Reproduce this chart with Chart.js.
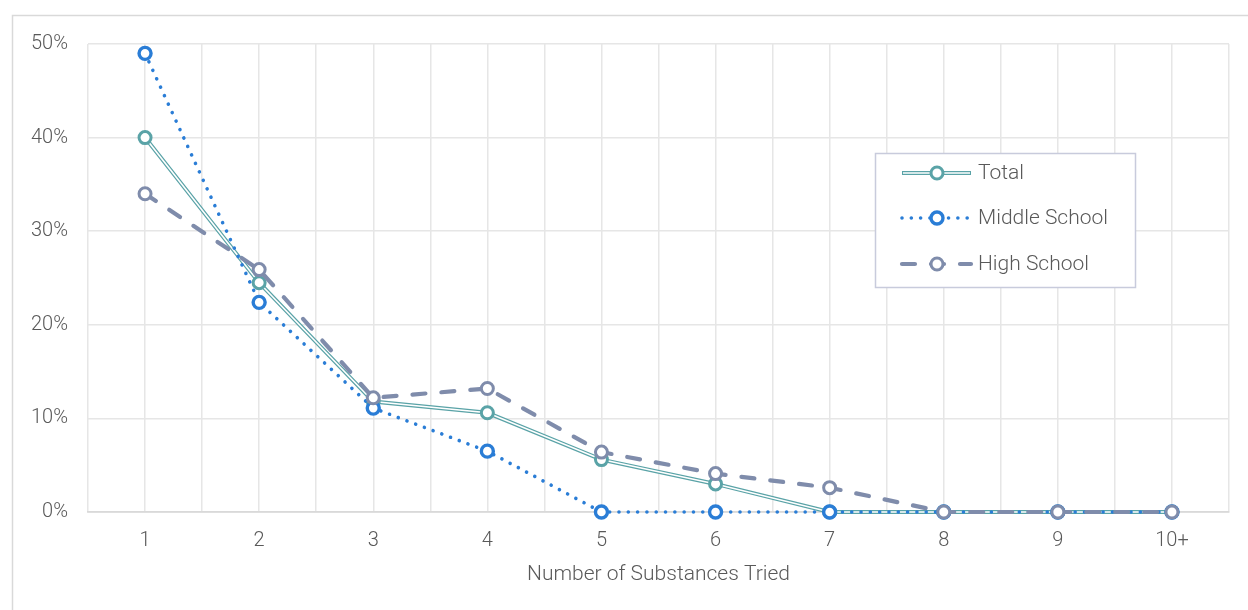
<!DOCTYPE html>
<html>
<head>
<meta charset="utf-8">
<script src="https://cdn.jsdelivr.net/npm/chart.js@4.4.1/dist/chart.umd.min.js"></script>
<style>
  html, body { margin: 0; padding: 0; background: #ffffff; }
  #wrap { position: relative; width: 1248px; height: 610px; }
</style>
</head>
<body>
<div id="wrap"><canvas id="chart" width="1248" height="610"></canvas></div>
<script>
// Share of students by number of substances tried (percent)
const categories = ['1', '2', '3', '4', '5', '6', '7', '8', '9', '10+'];
const totalValues = [40.0, 24.5, 11.8, 10.6, 5.6, 3.0, 0, 0, 0, 0];
const middleSchoolValues = [49.0, 22.4, 11.1, 6.5, 0, 0, 0, 0, 0, 0];
const highSchoolValues = [34.0, 25.9, 12.2, 13.2, 6.4, 4.1, 2.6, 0, 0, 0];
const yTicks = [0, 10, 20, 30, 40, 50];
const seriesNames = ['Total', 'Middle School', 'High School'];
const axisTitle = 'Number of Substances Tried';

const TEAL = '#5AA3A7';
const BLUE = '#2A7DD6';
const SLATE = '#7F8CAB';
const TEXT = '#595959';
const FONT = "Roboto, 'Noto Sans', sans-serif";

// categories sit at integer positions on a linear axis so grid lines fall
// both on each category and halfway between them
const toPoints = vals => vals.map((v, i) => ({ x: i + 1, y: v }));

const pointBase = {
  pointRadius: 6,
  pointHoverRadius: 6,
  pointBackgroundColor: '#ffffff',
  pointBorderWidth: 3,
  tension: 0,
  fill: false,
  clip: false
};

const datasets = [
  { // Total: teal outer strand of the double line
    label: seriesNames[0],
    data: toPoints(totalValues),
    borderColor: TEAL,
    borderWidth: 4,
    pointRadius: 0,
    order: 4,
    fill: false,
    clip: false,
    legendKey: 'skip'
  },
  { // Total: white core of the double line, with markers
    label: seriesNames[0],
    data: toPoints(totalValues),
    ...pointBase,
    borderColor: '#ffffff',
    borderWidth: 1.6,
    pointBorderColor: TEAL,
    order: 3,
    legendKey: 'total'
  },
  {
    label: seriesNames[1],
    data: toPoints(middleSchoolValues),
    ...pointBase,
    borderColor: BLUE,
    borderWidth: 3.6,
    borderDash: [0.01, 9.3],
    borderCapStyle: 'round',
    pointBorderColor: BLUE,
    pointBorderWidth: 3.4,
    order: 2,
    legendKey: 'ms'
  },
  {
    label: seriesNames[2],
    data: toPoints(highSchoolValues),
    ...pointBase,
    borderColor: SLATE,
    borderWidth: 4.2,
    borderDash: [13, 16],
    borderCapStyle: 'round',
    pointBorderColor: SLATE,
    order: 1,
    legendKey: 'hs'
  }
];

// outer frame around the chart
const framePlugin = {
  id: 'frame',
  beforeDraw(chart) {
    const ctx = chart.ctx;
    ctx.save();
    ctx.strokeStyle = '#D9D9D9';
    ctx.lineWidth = 1.5;
    ctx.strokeRect(12.5, 15.5, 1400, 800);
    ctx.restore();
  }
};

// boxed legend inside the plot, each entry showing line style and marker
const boxLegendPlugin = {
  id: 'boxLegend',
  afterDraw(chart) {
    const ctx = chart.ctx;
    const box = { x: 875.5, y: 153.5, w: 260, h: 134 };
    ctx.save();
    ctx.fillStyle = '#ffffff';
    ctx.fillRect(box.x, box.y, box.w, box.h);
    ctx.strokeStyle = '#C8CBDC';
    ctx.lineWidth = 1.5;
    ctx.strokeRect(box.x, box.y, box.w, box.h);

    const x0 = 902, x1 = 971, mx = 937, tx = 978;
    const rows = [173, 218, 264];
    const entries = chart.data.datasets.filter(d => d.legendKey !== 'skip');
    entries.forEach((ds, i) => {
      const y = rows[i];
      ctx.save();
      ctx.lineCap = ds.borderCapStyle || 'butt';
      if (ds.legendKey === 'total') {
        ctx.strokeStyle = TEAL; ctx.lineWidth = 4;
        ctx.beginPath(); ctx.moveTo(x0, y); ctx.lineTo(x1, y); ctx.stroke();
        ctx.strokeStyle = '#ffffff'; ctx.lineWidth = 1.6;
        ctx.beginPath(); ctx.moveTo(x0 + 1, y); ctx.lineTo(x1 - 1, y); ctx.stroke();
      } else {
        ctx.strokeStyle = ds.borderColor;
        ctx.lineWidth = ds.borderWidth;
        ctx.setLineDash(ds.borderDash || []);
        ctx.beginPath(); ctx.moveTo(x0, y); ctx.lineTo(x1, y); ctx.stroke();
      }
      ctx.setLineDash([]);
      ctx.beginPath();
      ctx.arc(mx, y, ds.pointRadius, 0, Math.PI * 2);
      ctx.fillStyle = '#ffffff';
      ctx.fill();
      ctx.strokeStyle = ds.pointBorderColor;
      ctx.lineWidth = ds.pointBorderWidth;
      ctx.stroke();
      ctx.restore();

      ctx.fillStyle = TEXT;
      ctx.font = `300 21px ${FONT}`;
      ctx.textBaseline = 'middle';
      ctx.textAlign = 'left';
      ctx.fillText(ds.label, tx, y + 1);
    });
    ctx.restore();
  }
};

new Chart(document.getElementById('chart'), {
  type: 'line',
  data: { datasets },
  plugins: [framePlugin, boxLegendPlugin],
  options: {
    responsive: false,
    animation: false,
    events: [],
    layout: { padding: { top: 44, right: 19, left: 0, bottom: 0 } },
    plugins: {
      legend: { display: false },
      tooltip: { enabled: false }
    },
    scales: {
      x: {
        type: 'linear',
        min: 0.5,
        max: categories.length + 0.5,
        afterFit: s => { s.height = 98; },
        afterBuildTicks: s => {
          const ticks = [];
          for (let v = 0.5; v <= categories.length + 0.5 + 1e-9; v += 0.5) ticks.push({ value: v });
          s.ticks = ticks;
        },
        ticks: {
          autoSkip: false,
          maxRotation: 0,
          padding: 17,
          color: TEXT,
          font: { family: FONT, size: 20, weight: '300' },
          callback: v => (Number.isInteger(v) ? categories[v - 1] : '')
        },
        grid: { color: '#E6E6E6', lineWidth: 1.5, drawTicks: false },
        border: { color: '#D9D9D9', width: 1.8 },
        title: {
          display: true,
          text: axisTitle,
          color: TEXT,
          font: { family: FONT, size: 21, weight: '300' },
          padding: { top: 4, bottom: 23 }
        }
      },
      y: {
        min: yTicks[0],
        max: yTicks[yTicks.length - 1],
        afterFit: s => { s.width = 88; },
        afterBuildTicks: s => { s.ticks = yTicks.map(v => ({ value: v })); },
        ticks: {
          padding: 20,
          color: TEXT,
          font: { family: FONT, size: 20, weight: '300' },
          callback: v => v + '%'
        },
        grid: { color: '#E6E6E6', lineWidth: 1.5, drawTicks: false },
        border: { display: false }
      }
    }
  }
});
</script>
</body>
</html>
